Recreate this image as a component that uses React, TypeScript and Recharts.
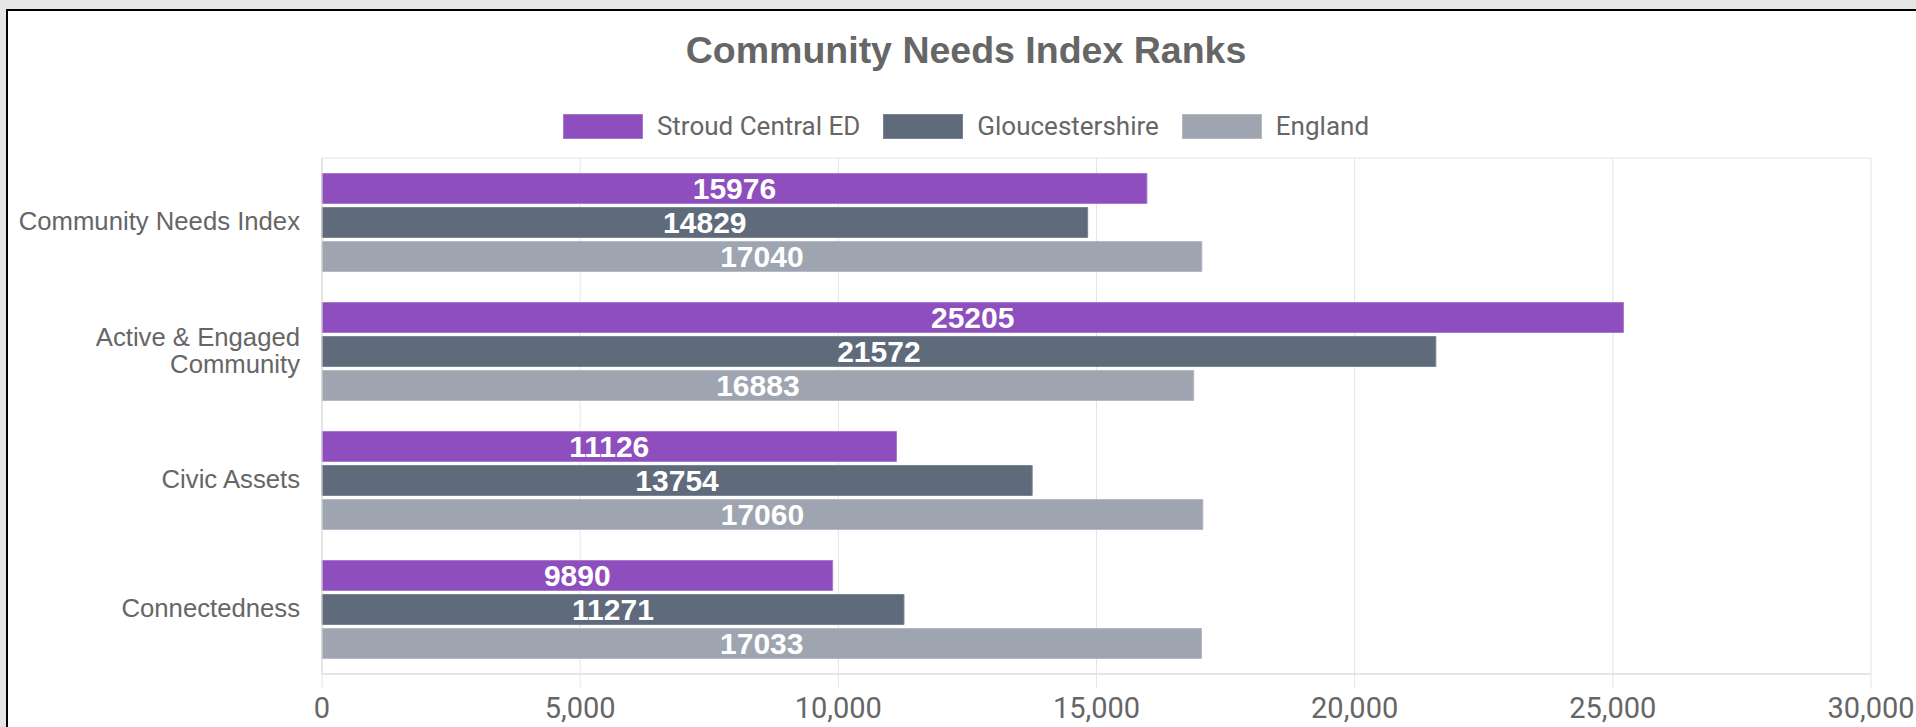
import React from 'react';
import { BarChart, Bar, XAxis, YAxis, CartesianGrid, Legend, LabelList } from 'recharts';

const categories = ['Community Needs Index', 'Active & Engaged\nCommunity', 'Civic Assets', 'Connectedness'];
const stroudValues = [15976, 25205, 11126, 9890];
const gloucestershireValues = [14829, 21572, 13754, 11271];
const englandValues = [17040, 16883, 17060, 17033];
const seriesNames = ['Stroud Central ED', 'Gloucestershire', 'England'];
const seriesColors = ['#8e4ebd', '#5f6a7b', '#9ea5b1'];
const seriesStrokes = ['#a579cf', '#798393', '#b3b9c3'];
const xTicks = [0, 5000, 10000, 15000, 20000, 25000, 30000];
const gridTicks = [0, 1, 2, 3, 4];

const data = categories.map((name, i) => ({
  name,
  s0: stroudValues[i],
  s1: gloucestershireValues[i],
  s2: englandValues[i],
}));

const GRID = '#e4e4e4';
const AXIS = '#d9d9d9';

const CategoryTick = (props: any) => {
  const { x, y, payload } = props;
  const lines = String(payload.value).split('\n');
  const lh = 27;
  return (
    <text x={x} y={y} textAnchor="end" fill="#666" fontSize={25.7} fontFamily="'Liberation Sans', Arial, sans-serif">
      {lines.map((l, i) => (
        <tspan key={i} x={x} dy={i === 0 ? -((lines.length - 1) * lh) / 2 + 7.5 : lh}>
          {l}
        </tspan>
      ))}
    </text>
  );
};

const LegendContent = () => {
  return (
    <div style={{ display: 'flex', justifyContent: 'center', alignItems: 'center', height: 27 }}>
      {seriesNames.map((name, i) => (
        <div key={name} style={{ display: 'flex', alignItems: 'center', marginLeft: i === 0 ? 0 : 23 }}>
          <div
            style={{
              width: 80,
              height: 25,
              boxSizing: 'border-box',
              background: seriesColors[i],
              border: `1px solid ${seriesStrokes[i]}`,
            }}
          />
          <span
            style={{
              marginLeft: 14,
              fontFamily: 'Roboto, sans-serif',
              fontSize: 26,
              color: '#666',
              lineHeight: '27px',
              whiteSpace: 'nowrap',
            }}
          >
            {name}
          </span>
        </div>
      ))}
    </div>
  );
};

export default function App() {
  return (
    <div style={{ position: 'fixed', left: 0, top: 0, width: 1916, height: 727, background: '#e6e6e6', overflow: 'hidden' }}>
      <div
        style={{
          position: 'absolute',
          left: 6,
          top: 9,
          width: 1940,
          height: 760,
          background: '#fff',
          border: '2px solid #000',
        }}
      />
      <div
        style={{
          position: 'absolute',
          left: 7,
          width: 1918,
          top: 32,
          textAlign: 'center',
          fontFamily: "'Liberation Sans', Arial, sans-serif",
          fontWeight: 'bold',
          fontSize: 37.5,
          lineHeight: '37px',
          color: '#666',
        }}
      >
        Community Needs Index Ranks
      </div>
      <div style={{ position: 'absolute', left: 0, top: 0 }}>
        <BarChart
          width={1916}
          height={727}
          data={data}
          layout="vertical"
          margin={{ top: 158, right: 45, bottom: 0, left: 0 }}
          barCategoryGap="12%"
          barGap={4}
        >
          <CartesianGrid stroke={GRID} xAxisId={0} yAxisId={0} />
          <YAxis
            yAxisId={0}
            type="number"
            domain={[0, 4]}
            ticks={gridTicks}
            interval={0}
            tick={false}
            tickSize={15}
            width={15}
            axisLine={{ stroke: AXIS }}
            tickLine={{ stroke: GRID }}
          />
          <YAxis
            yAxisId={1}
            type="category"
            dataKey="name"
            width={307}
            axisLine={false}
            tickLine={false}
            tickSize={0}
            tickMargin={7}
            interval={0}
            tick={<CategoryTick />}
          />
          <XAxis
            xAxisId={0}
            type="number"
            domain={[0, 30000]}
            ticks={xTicks}
            interval={0}
            height={53}
            tickSize={14}
            tickMargin={9}
            axisLine={{ stroke: AXIS }}
            tickLine={{ stroke: GRID }}
            tickFormatter={(v: number) => v.toLocaleString('en-US')}
            tick={{ fill: '#666', fontSize: 29, fontFamily: 'Roboto, sans-serif' }}
          />
          <Legend
            layout="horizontal"
            verticalAlign="middle"
            align="center"
            wrapperStyle={{ top: 113, left: 7, width: 1918 }}
            content={<LegendContent />}
          />
          {seriesNames.map((n, i) => (
            <Bar
              key={n}
              dataKey={`s${i}`}
              name={n}
              yAxisId={1}
              xAxisId={0}
              fill={seriesColors[i]}
              stroke={seriesStrokes[i]}
              strokeWidth={1}
              isAnimationActive={false}
            >
              <LabelList
                dataKey={`s${i}`}
                position="center"
                fill="#fff"
                fontSize={30}
                fontWeight="bold"
                fontFamily="'Liberation Sans', Arial, sans-serif"
              />
            </Bar>
          ))}
        </BarChart>
      </div>
    </div>
  );
}
